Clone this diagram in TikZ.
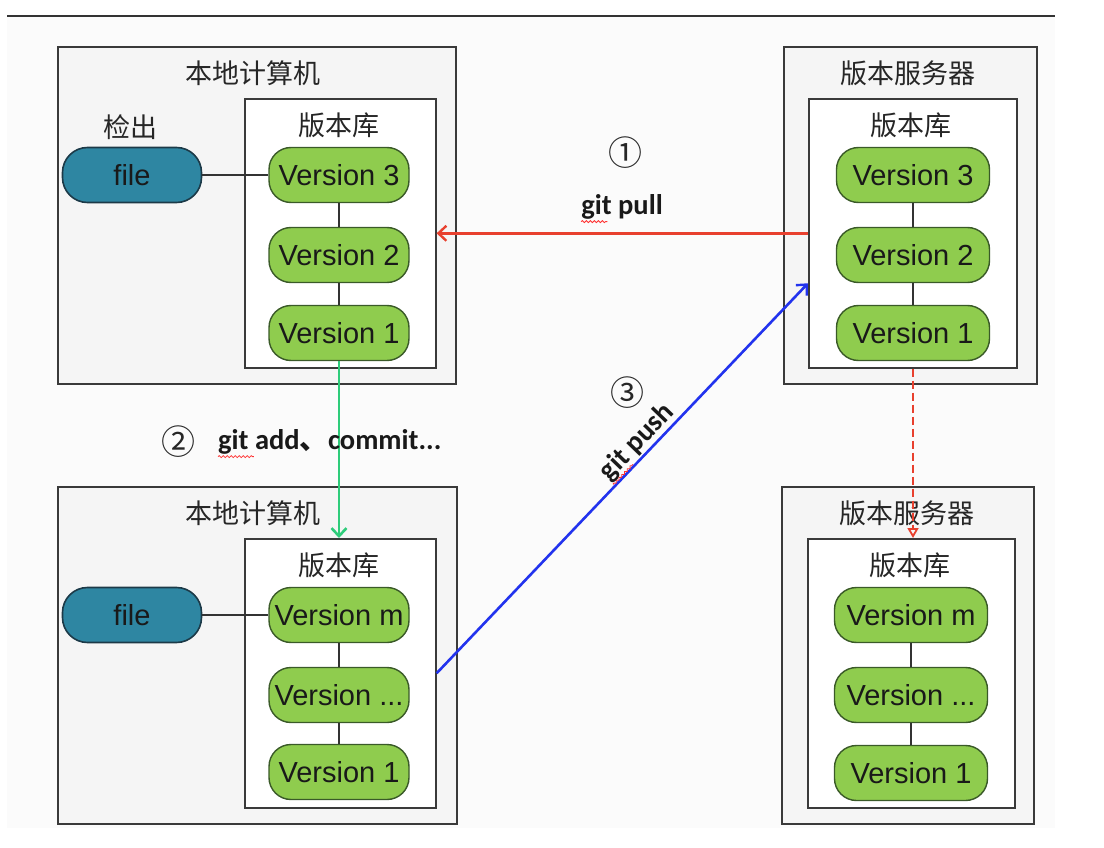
\documentclass[tikz,border=0pt]{standalone}
\usepackage{fontspec}
\setmainfont{Liberation Sans}
\newfontfamily\cjk{Noto Sans CJK SC}
\newfontfamily\lab{Carlito}
\usetikzlibrary{arrows.meta,decorations.pathmorphing,calc}
\definecolor{vgreen}{HTML}{8FCC4E}
\definecolor{vborder}{HTML}{3A5A28}
\definecolor{ffill}{HTML}{2E86A2}
\definecolor{fborder}{HTML}{1C3A48}
\definecolor{boxline}{HTML}{3A3A3A}
\definecolor{pullred}{HTML}{E8402E}
\definecolor{addgreen}{HTML}{2ECC7A}
\definecolor{pushblue}{HTML}{2233EE}
\begin{document}
\begin{tikzpicture}[x=1pt,y=-1pt,
  outerbox/.style={draw=boxline,line width=2pt,fill=black!4,anchor=north west,inner sep=0pt},
  innerbox/.style={draw=boxline,line width=1.6pt,fill=white,anchor=north west,inner sep=0pt},
  title/.style={font=\cjk\fontsize{27}{30}\selectfont,text=black!85,inner sep=0pt},
  ver/.style={draw=vborder,line width=1.4pt,fill=vgreen,rounded corners=22pt,minimum height=55pt,inner sep=0pt,font=\fontsize{29}{31}\selectfont,text=black!90},
  filebox/.style={draw=fborder,line width=1.6pt,fill=ffill,rounded corners=25pt,minimum width=139pt,minimum height=55pt,inner sep=0pt,font=\fontsize{29}{31}\selectfont,text=black!90},
  link/.style={draw=black!80,line width=1.3pt},
  glabel/.style={font=\lab\bfseries\fontsize{28.5}{30}\selectfont,text=black!90,inner sep=0pt},
  circ/.style={font=\cjk\fontsize{34}{36}\selectfont,text=black!85,inner sep=0pt},
  squig/.style={draw=red!80,line width=0.8pt,decorate,decoration={snake,amplitude=1pt,segment length=4pt}}
]
\useasboundingbox (0,0) rectangle (1104,848);
\fill[black!1.5] (7,17) rectangle (1055,828);
\draw[line width=2pt,black!80] (7,16) -- (1055,16);

% ---- top left: local computer
\node[outerbox,minimum width=398pt,minimum height=337pt] (lo1) at (57,46) {};
\node[title] (lt1) at (253,73) {本地计算机};
\node[innerbox,minimum width=191pt,minimum height=269pt] (li1) at (244,98) {};
\node[title] (lr1) at (339,125) {版本库};
\node[title] (co) at (130,127) {检出};
\node[filebox] (lf1) at (132,175) {file};
\node[ver,minimum width=140pt] (lv3) at (339,175) {Version 3};
\node[ver,minimum width=140pt] (lv2) at (339,255) {Version 2};
\node[ver,minimum width=140pt] (lv1) at (339,333) {Version 1};
\draw[link] (lf1) -- (lv3);
\draw[link] (lv3) -- (lv2);
\draw[link] (lv2) -- (lv1);

% ---- top right: server
\node[outerbox,minimum width=253pt,minimum height=337pt] (ro1) at (783,46) {};
\node[title] (rt1) at (908,73) {版本服务器};
\node[innerbox,minimum width=208pt,minimum height=269pt] (ri1) at (808,98) {};
\node[title] (rr1) at (911,125) {版本库};
\node[ver,minimum width=153pt] (rv3) at (913,175) {Version 3};
\node[ver,minimum width=153pt] (rv2) at (913,255) {Version 2};
\node[ver,minimum width=153pt] (rv1) at (913,333) {Version 1};
\draw[link] (rv3) -- (rv2);
\draw[link] (rv2) -- (rv1);

% ---- bottom left: local computer
\node[outerbox,minimum width=399pt,minimum height=337pt] (lo2) at (57,486) {};
\node[title] (lt2) at (253,513) {本地计算机};
\node[innerbox,minimum width=191pt,minimum height=269pt] (li2) at (244,538) {};
\node[title] (lr2) at (339,565) {版本库};
\node[filebox] (lf2) at (132,615) {file};
\node[ver,minimum width=140pt] (lvm) at (339,615) {Version m};
\node[ver,minimum width=140pt] (lvd) at (339,695) {Version ...};
\node[ver,minimum width=140pt] (lvb) at (339,772) {Version 1};
\draw[link] (lf2) -- (lvm);
\draw[link] (lvm) -- (lvd);
\draw[link] (lvd) -- (lvb);

% ---- bottom right: server
\node[outerbox,minimum width=252pt,minimum height=337pt] (ro2) at (781,486) {};
\node[title] (rt2) at (907,513) {版本服务器};
\node[innerbox,minimum width=207pt,minimum height=269pt] (ri2) at (807,538) {};
\node[title] (rr2) at (910,565) {版本库};
\node[ver,minimum width=153pt] (rvm) at (911,615) {Version m};
\node[ver,minimum width=153pt] (rvd) at (911,695) {Version ...};
\node[ver,minimum width=153pt] (rvb) at (911,773) {Version 1};
\draw[link] (rvm) -- (rvd);
\draw[link] (rvd) -- (rvb);

% ---- connectors
\draw[pullred,line width=2.6pt,-{Straight Barb[length=8pt,width=15pt,line width=2.4pt]}] (ri1.west) -- (li1.east);
\draw[addgreen,line width=2.8pt,-{Straight Barb[length=8pt,width=15pt,line width=2.6pt]}] (lv1.south) -- (lv1.south |- li2.north);
\draw[pushblue,line width=2.6pt,-{Straight Barb[length=8pt,width=15pt,line width=2.4pt]}] (li2.east) -- ([yshift=-50pt]ri1.west);
\draw[pullred,line width=2.6pt,dash pattern=on 8pt off 4pt,-{Triangle[open,length=10pt,width=11pt,line width=1.8pt]}] (rv1.south |- ri1.south) -- (rv1.south |- ri2.north);

% ---- labels
\node[circ] (c1) at (625,153) {①};
\node[glabel] (gpull) at (622,207) {git pull};
\draw[squig] ([yshift=-2pt]gpull.south west) -- ($([yshift=-2pt]gpull.south west)!0.32!([yshift=-2pt]gpull.south east)$);
\node[circ] (c2) at (178,442) {②};
\node[glabel,anchor=west] (gadd) at (218,442) {git add{\cjk 、}commit...};
\draw[squig] ([yshift=-2pt]gadd.south west) -- ($([yshift=-2pt]gadd.south west)!0.16!([yshift=-2pt]gadd.south east)$);
\node[circ] (c3) at (627,393) {③};
\node[glabel,rotate=46] (gpush) at (637,442) {git push};
\draw[squig] (gpush.south west) -- ($(gpush.south west)!0.3!(gpush.south east)$);
\end{tikzpicture}
\end{document}
